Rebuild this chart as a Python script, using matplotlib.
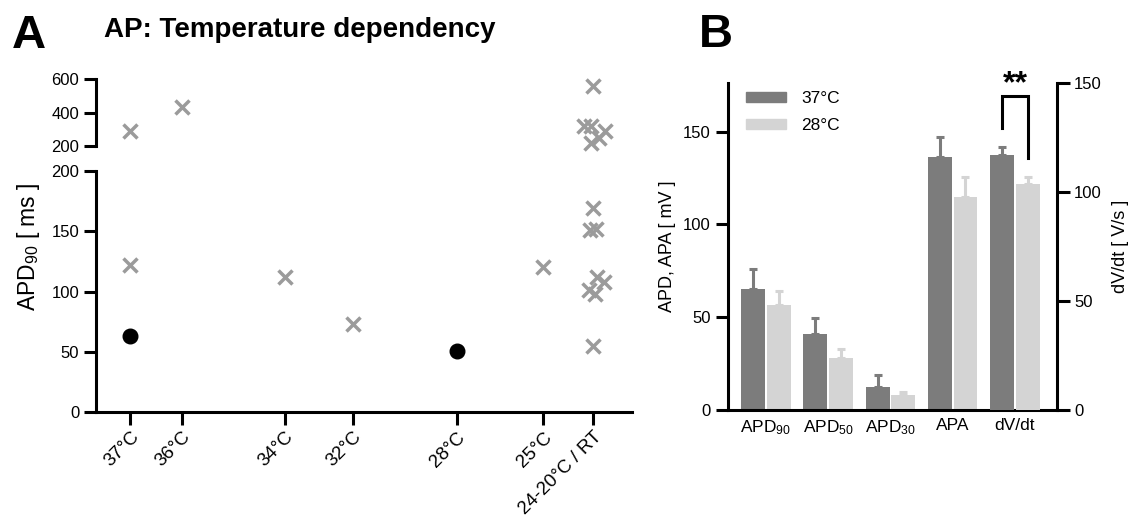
import matplotlib
matplotlib.use("Agg")

import matplotlib.pyplot as plt
from matplotlib.patches import Patch

plt.rcParams["font.family"] = ["Liberation Sans", "DejaVu Sans"]
plt.rcParams["mathtext.fontset"] = "custom"
plt.rcParams["mathtext.rm"] = "Liberation Sans"
plt.rcParams["mathtext.it"] = "Liberation Sans:italic"
plt.rcParams["mathtext.bf"] = "Liberation Sans:bold"

# panel A: APD90 per recording temperature
temp_labels = ["37°C", "36°C", "34°C", "32°C", "28°C", "25°C", "24-20°C / RT"]
cross_temp = ["37°C", "37°C", "36°C", "34°C", "32°C", "25°C",
              "24-20°C / RT", "24-20°C / RT", "24-20°C / RT", "24-20°C / RT",
              "24-20°C / RT", "24-20°C / RT", "24-20°C / RT", "24-20°C / RT",
              "24-20°C / RT", "24-20°C / RT", "24-20°C / RT", "24-20°C / RT",
              "24-20°C / RT", "24-20°C / RT"]
cross_apd90 = [292, 122, 436, 112, 73, 120,
               560, 322, 318, 292, 248, 216,
               169, 151, 152, 112, 108, 101, 98, 55]
dot_temp = ["37°C", "28°C"]
dot_apd90 = [63, 51]

# panel B: mean + error, 37 vs 28 °C
params = ["APD$_{90}$", "APD$_{50}$", "APD$_{30}$", "APA", "dV/dt"]
mean_37 = [65.0, 40.8, 12.2, 136.1, 117.2]
err_37 = [10.8, 8.9, 6.7, 11.2, 3.5]
mean_28 = [56.4, 27.8, 8.1, 114.6, 103.9]
err_28 = [7.7, 5.2, 1.8, 11.1, 3.2]

# layout only
X_POS = {"37°C": 1.0, "36°C": 2.0, "34°C": 4.0, "32°C": 5.33,
         "28°C": 7.35, "25°C": 9.03, "24-20°C / RT": 10.0}
JITTER = [0, 0, 0, 0, 0, 0,
          0, -0.18, -0.04, 0.23, 0.11, -0.03,
          0, -0.06, 0.06, 0.08, 0.22, -0.08, 0.04, 0]
BREAK = 200

W, H = 1129, 521
CROSS = "#9b9b9b"
DARK = "#7c7c7c"
LIGHT = "#d4d4d4"
LW = 2.2


def fax(x0, y0, x1, y1):
    return fig.add_axes([x0 / W, 1 - y1 / H, (x1 - x0) / W, (y1 - y0) / H])


fig = plt.figure(figsize=(W / 100, H / 100), dpi=100)

ax_lo = fax(96, 171, 632, 412)
ax_up = fax(96, 79.3, 632, 146)

cx = [X_POS[t] + j for t, j in zip(cross_temp, JITTER)]
lo = [(x, v) for x, v in zip(cx, cross_apd90) if v <= BREAK]
hi = [(x, v) for x, v in zip(cx, cross_apd90) if v > BREAK]
mk = dict(linestyle="none", marker="x", ms=10.5, mew=2.5, color=CROSS,
          clip_on=False)
ax_lo.plot([p[0] for p in lo], [p[1] for p in lo], **mk)
ax_up.plot([p[0] for p in hi], [p[1] for p in hi], **mk)
ax_lo.plot([X_POS[t] for t in dot_temp], dot_apd90, linestyle="none",
           marker="o", ms=10.5, color="black", clip_on=False)

for ax in (ax_lo, ax_up):
    ax.set_xlim(0.33, 10.76)
    for s in ("top", "right"):
        ax.spines[s].set_visible(False)
    for s in ("left", "bottom"):
        ax.spines[s].set_linewidth(LW)
    ax.tick_params(axis="both", width=LW, length=9, labelsize=12, pad=3)

ax_lo.set_ylim(0, 200)
ax_lo.set_yticks([0, 50, 100, 150, 200])
ax_lo.set_xticks([X_POS[t] for t in temp_labels])
ax_lo.set_xticklabels(temp_labels, rotation=45, ha="right",
                      rotation_mode="anchor", fontsize=13.5)

ax_up.set_ylim(200, 600)
ax_up.set_yticks([200, 400, 600])
ax_up.spines["bottom"].set_visible(False)
ax_up.set_xticks([])

fig.text(29 / W, 1 - 247 / H, "APD$_{90}$ [ ms ]", rotation=90,
         ha="center", va="center", fontsize=16.5)

fig.text(12 / W, 1 - 48 / H, "A", fontsize=34, fontweight="bold",
         ha="left", va="baseline")
fig.text(104 / W, 1 - 37 / H, "AP: Temperature dependency", fontsize=20,
         fontweight="bold", ha="left", va="baseline")
fig.text(699 / W, 1 - 47 / H, "B", fontsize=34, fontweight="bold",
         ha="left", va="baseline")

# panel B
axb = fax(728.3, 83.3, 1056.7, 410)
ax2 = axb.twinx()
xs = list(range(len(params)))
off, bw = 0.205, 0.385
ek = dict(fmt="none", capsize=3, elinewidth=2.2, capthick=2.2)
for i in xs:
    tgt = ax2 if i == len(params) - 1 else axb
    tgt.bar(i - off, mean_37[i], bw, color=DARK)
    tgt.bar(i + off, mean_28[i], bw, color=LIGHT)
    tgt.errorbar(i - off, mean_37[i], yerr=[[0], [err_37[i]]], ecolor=DARK, **ek)
    tgt.errorbar(i + off, mean_28[i], yerr=[[0], [err_28[i]]], ecolor=LIGHT, **ek)

axb.set_xlim(-0.605, 4.67)
axb.set_ylim(0, 176)
ax2.set_ylim(0, 150)
axb.set_yticks([0, 50, 100, 150])
ax2.set_yticks([0, 50, 100, 150])
axb.set_xticks(xs)
axb.set_xticklabels(params)
for s in ("top", "right"):
    axb.spines[s].set_visible(False)
for s in ("top", "left", "bottom"):
    ax2.spines[s].set_visible(False)
for s in ("left", "bottom"):
    axb.spines[s].set_linewidth(LW)
ax2.spines["right"].set_linewidth(LW)
axb.tick_params(axis="y", width=LW, length=9, labelsize=12)
axb.tick_params(axis="x", length=0, labelsize=12.5, pad=6)
ax2.tick_params(axis="y", width=LW, length=9, labelsize=12)
axb.set_ylabel("APD, APA [ mV ]", fontsize=13, labelpad=5)
ax2.set_ylabel("dV/dt [ V/s ]", fontsize=13, labelpad=7)

# significance bracket on dV/dt
b0, b1 = 4 - off, 4 + off
ax2.plot([b0, b0, b1, b1], [129.6, 144.2, 144.2, 115.8], color="black",
         lw=LW, clip_on=False, solid_joinstyle="miter")
ax2.text(4, 149.5, "**", ha="center", va="center", fontsize=23,
         fontweight="bold", clip_on=False)

axb.legend(handles=[Patch(color=DARK, label="37°C"),
                    Patch(color=LIGHT, label="28°C")],
           loc="upper left", bbox_to_anchor=(746 / W, 1 - 91 / H),
           bbox_transform=fig.transFigure, frameon=False, fontsize=12.5,
           handlelength=2.3, handleheight=0.55, handletextpad=0.9,
           labelspacing=0.7, borderpad=0, borderaxespad=0)

fig.savefig("out.png", dpi=100)
